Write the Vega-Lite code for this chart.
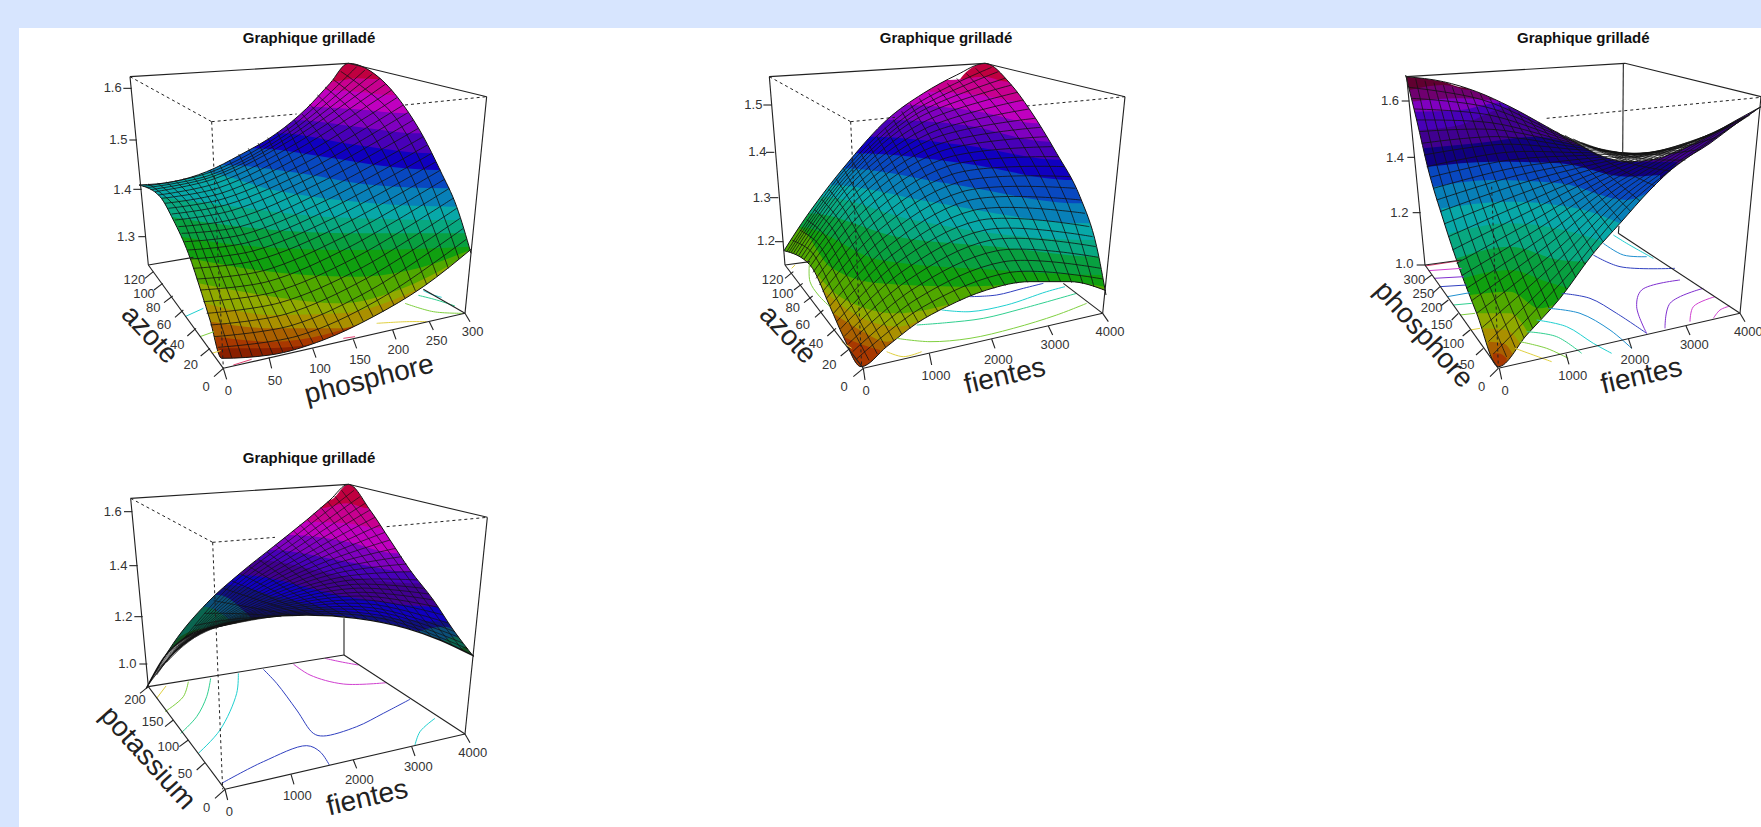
{"$schema":"https://vega.github.io/schema/vega-lite/v6.json","padding":0,"background":"#ffffff","config":{"view":{"stroke":null},"text":{"font":"Liberation Sans"}},
"datasets":{
"a1":[{"b":17,"x":150,"y":220},{"b":17,"x":690,"y":220},{"b":17,"x":775,"y":130},{"b":17,"x":1140,"y":130},
{"b":16,"x":150,"y":185},{"b":16,"x":725,"y":185},{"b":16,"x":800,"y":175},{"b":16,"x":870,"y":178},{"b":16,"x":1140,"y":178},
{"b":15,"x":150,"y":210},{"b":15,"x":700,"y":210},{"b":15,"x":800,"y":215},{"b":15,"x":900,"y":225},{"b":15,"x":1140,"y":225},
{"b":14,"x":150,"y":260},{"b":14,"x":655,"y":260},{"b":14,"x":800,"y":268},{"b":14,"x":950,"y":280},{"b":14,"x":1140,"y":280},
{"b":13,"x":150,"y":300},{"b":13,"x":610,"y":300},{"b":13,"x":800,"y":320},{"b":13,"x":990,"y":340},{"b":13,"x":1140,"y":340},
{"b":12,"x":150,"y":340},{"b":12,"x":560,"y":340},{"b":12,"x":800,"y":375},{"b":12,"x":1025,"y":400},{"b":12,"x":1140,"y":400},
{"b":11,"x":150,"y":385},{"b":11,"x":490,"y":385},{"b":11,"x":700,"y":410},{"b":11,"x":900,"y":440},{"b":11,"x":1050,"y":450},{"b":11,"x":1140,"y":450},
{"b":10,"x":150,"y":435},{"b":10,"x":400,"y":435},{"b":10,"x":600,"y":455},{"b":10,"x":850,"y":495},{"b":10,"x":1075,"y":505},{"b":10,"x":1140,"y":505},
{"b":9,"x":150,"y":495},{"b":9,"x":250,"y":485},{"b":9,"x":340,"y":458},{"b":9,"x":550,"y":510},{"b":9,"x":850,"y":550},{"b":9,"x":1095,"y":560},{"b":9,"x":1140,"y":560},
{"b":8,"x":205,"y":530},{"b":8,"x":400,"y":555},{"b":8,"x":700,"y":590},{"b":8,"x":1110,"y":600},{"b":8,"x":1140,"y":600},
{"b":7,"x":240,"y":590},{"b":7,"x":450,"y":620},{"b":7,"x":800,"y":640},{"b":7,"x":1125,"y":640},{"b":7,"x":1140,"y":640},
{"b":6,"x":272,"y":650},{"b":6,"x":500,"y":680},{"b":6,"x":800,"y":690},{"b":6,"x":1140,"y":680},
{"b":5,"x":300,"y":715},{"b":5,"x":500,"y":750},{"b":5,"x":800,"y":770},{"b":5,"x":1000,"y":740},{"b":5,"x":1140,"y":690},
{"b":4,"x":325,"y":790},{"b":4,"x":550,"y":830},{"b":4,"x":750,"y":850},{"b":4,"x":950,"y":800},{"b":4,"x":1140,"y":700},
{"b":3,"x":345,"y":850},{"b":3,"x":550,"y":885},{"b":3,"x":750,"y":880},{"b":3,"x":1000,"y":800},
{"b":2,"x":362,"y":905},{"b":2,"x":550,"y":925},{"b":2,"x":750,"y":925},{"b":2,"x":900,"y":865},
{"b":1,"x":378,"y":950},{"b":1,"x":550,"y":965},{"b":1,"x":700,"y":945},{"b":1,"x":800,"y":915},
{"b":0,"x":388,"y":985},{"b":0,"x":520,"y":985},{"b":0,"x":650,"y":975},{"b":0,"x":720,"y":950}],
"k1":[{"x":147,"y":495},{"x":210,"y":530},{"x":250,"y":600},{"x":295,"y":700},{"x":335,"y":820},{"x":360,"y":900},{"x":395,"y":1015},{"x":540,"y":1005},{"x":700,"y":960},{"x":850,"y":890},{"x":1000,"y":800},{"x":1143,"y":688}],
"r1":[{"x":147,"y":495},{"x":250,"y":485},{"x":350,"y":455},{"x":450,"y":405},{"x":560,"y":340},{"x":650,"y":265},{"x":720,"y":190},{"x":775,"y":130},{"x":870,"y":175},{"x":940,"y":255},{"x":1000,"y":350},{"x":1050,"y":450},{"x":1100,"y":560},{"x":1143,"y":700}],
"m1":[{"m":1,"x":384,"y":982},{"m":1,"x":623,"y":948},{"m":1,"x":862,"y":841},{"m":1,"x":1130,"y":657},
{"m":2,"x":372,"y":950},{"m":2,"x":606,"y":916},{"m":2,"x":845,"y":808},{"m":2,"x":1120,"y":625},
{"m":3,"x":361,"y":915},{"m":3,"x":588,"y":882},{"m":3,"x":828,"y":776},{"m":3,"x":1110,"y":595},
{"m":4,"x":350,"y":880},{"m":4,"x":570,"y":848},{"m":4,"x":812,"y":745},{"m":4,"x":1100,"y":565},
{"m":5,"x":340,"y":845},{"m":5,"x":553,"y":816},{"m":5,"x":795,"y":713},{"m":5,"x":1089,"y":535},
{"m":6,"x":330,"y":810},{"m":6,"x":536,"y":784},{"m":6,"x":778,"y":681},{"m":6,"x":1078,"y":505},
{"m":7,"x":320,"y":777},{"m":7,"x":520,"y":752},{"m":7,"x":762,"y":650},{"m":7,"x":1065,"y":477},
{"m":8,"x":310,"y":745},{"m":8,"x":503,"y":720},{"m":8,"x":747,"y":620},{"m":8,"x":1052,"y":450},
{"m":9,"x":301,"y":717},{"m":9,"x":489,"y":693},{"m":9,"x":733,"y":593},{"m":9,"x":1038,"y":425},
{"m":10,"x":293,"y":690},{"m":10,"x":475,"y":667},{"m":10,"x":719,"y":567},{"m":10,"x":1025,"y":400},
{"m":11,"x":284,"y":665},{"m":11,"x":462,"y":643},{"m":11,"x":706,"y":542},{"m":11,"x":1012,"y":375},
{"m":12,"x":275,"y":640},{"m":12,"x":450,"y":620},{"m":12,"x":693,"y":517},{"m":12,"x":1000,"y":350},
{"m":13,"x":265,"y":620},{"m":13,"x":437,"y":596},{"m":13,"x":680,"y":493},{"m":13,"x":985,"y":325},
{"m":14,"x":255,"y":600},{"m":14,"x":424,"y":572},{"m":14,"x":668,"y":470},{"m":14,"x":970,"y":300},
{"m":15,"x":245,"y":582},{"m":15,"x":414,"y":553},{"m":15,"x":657,"y":449},{"m":15,"x":955,"y":277},
{"m":16,"x":235,"y":565},{"m":16,"x":405,"y":535},{"m":16,"x":647,"y":428},{"m":16,"x":940,"y":255},
{"m":17,"x":225,"y":550},{"m":17,"x":396,"y":519},{"m":17,"x":636,"y":407},{"m":17,"x":922,"y":232},
{"m":18,"x":215,"y":535},{"m":18,"x":388,"y":503},{"m":18,"x":625,"y":387},{"m":18,"x":905,"y":210},
{"m":19,"x":205,"y":525},{"m":19,"x":381,"y":489},{"m":19,"x":617,"y":371},{"m":19,"x":887,"y":192},
{"m":20,"x":195,"y":515},{"m":20,"x":374,"y":476},{"m":20,"x":609,"y":356},{"m":20,"x":870,"y":175},
{"m":21,"x":182,"y":509},{"m":21,"x":370,"y":469},{"m":21,"x":604,"y":346},{"m":21,"x":847,"y":162},
{"m":22,"x":170,"y":503},{"m":22,"x":367,"y":463},{"m":22,"x":599,"y":337},{"m":22,"x":825,"y":150},
{"m":23,"x":160,"y":499},{"m":23,"x":363,"y":456},{"m":23,"x":594,"y":328},{"m":23,"x":800,"y":140},
{"m":101,"x":425,"y":1013},{"m":101,"x":334,"y":742},{"m":101,"x":256,"y":561},{"m":101,"x":176,"y":492},
{"m":102,"x":456,"y":1012},{"m":102,"x":358,"y":739},{"m":102,"x":277,"y":558},{"m":102,"x":203,"y":490},
{"m":103,"x":487,"y":1009},{"m":103,"x":382,"y":736},{"m":103,"x":298,"y":554},{"m":103,"x":229,"y":486},
{"m":104,"x":518,"y":1007},{"m":104,"x":406,"y":733},{"m":104,"x":320,"y":550},{"m":104,"x":255,"y":482},
{"m":105,"x":548,"y":1002},{"m":105,"x":430,"y":729},{"m":105,"x":341,"y":546},{"m":105,"x":281,"y":475},
{"m":106,"x":579,"y":997},{"m":106,"x":455,"y":726},{"m":106,"x":362,"y":543},{"m":106,"x":308,"y":468},
{"m":107,"x":610,"y":988},{"m":107,"x":479,"y":723},{"m":107,"x":383,"y":539},{"m":107,"x":334,"y":459},
{"m":108,"x":640,"y":980},{"m":108,"x":503,"y":720},{"m":108,"x":405,"y":535},{"m":108,"x":360,"y":450},
{"m":109,"x":670,"y":970},{"m":109,"x":533,"y":707},{"m":109,"x":435,"y":521},{"m":109,"x":389,"y":435},
{"m":110,"x":700,"y":960},{"m":110,"x":564,"y":695},{"m":110,"x":465,"y":508},{"m":110,"x":418,"y":420},
{"m":111,"x":730,"y":946},{"m":111,"x":594,"y":682},{"m":111,"x":495,"y":494},{"m":111,"x":446,"y":402},
{"m":112,"x":760,"y":932},{"m":112,"x":625,"y":670},{"m":112,"x":526,"y":481},{"m":112,"x":475,"y":385},
{"m":113,"x":790,"y":918},{"m":113,"x":655,"y":657},{"m":113,"x":556,"y":468},{"m":113,"x":504,"y":369},
{"m":114,"x":820,"y":904},{"m":114,"x":686,"y":645},{"m":114,"x":586,"y":455},{"m":114,"x":533,"y":353},
{"m":115,"x":850,"y":890},{"m":115,"x":716,"y":632},{"m":115,"x":616,"y":441},{"m":115,"x":561,"y":336},
{"m":116,"x":880,"y":875},{"m":116,"x":747,"y":620},{"m":116,"x":647,"y":428},{"m":116,"x":590,"y":320},
{"m":117,"x":912,"y":855},{"m":117,"x":785,"y":599},{"m":117,"x":683,"y":406},{"m":117,"x":613,"y":301},
{"m":118,"x":945,"y":835},{"m":118,"x":823,"y":578},{"m":118,"x":720,"y":385},{"m":118,"x":636,"y":282},
{"m":119,"x":977,"y":814},{"m":119,"x":861,"y":556},{"m":119,"x":756,"y":363},{"m":119,"x":659,"y":253},
{"m":120,"x":1010,"y":793},{"m":120,"x":900,"y":535},{"m":120,"x":793,"y":341},{"m":120,"x":682,"y":225},
{"m":121,"x":1042,"y":769},{"m":121,"x":938,"y":514},{"m":121,"x":830,"y":319},{"m":121,"x":705,"y":201},
{"m":122,"x":1075,"y":745},{"m":122,"x":976,"y":493},{"m":122,"x":867,"y":298},{"m":122,"x":729,"y":178},
{"m":123,"x":1107,"y":717},{"m":123,"x":1014,"y":471},{"m":123,"x":903,"y":276},{"m":123,"x":752,"y":154}],
"c1":[{"l":1,"c":6,"x":285,"y":890},{"l":1,"c":6,"x":340,"y":865},{"l":2,"c":8,"x":330,"y":950},{"l":2,"c":8,"x":372,"y":935},{"l":3,"c":9,"x":365,"y":1000},{"l":3,"c":9,"x":392,"y":992},{"l":4,"c":1,"x":430,"y":1035},{"l":4,"c":1,"x":485,"y":1018},{"l":5,"c":1,"x":760,"y":955},{"l":5,"c":1,"x":795,"y":950},{"l":6,"c":6,"x":1000,"y":812},{"l":6,"c":6,"x":1030,"y":825},{"l":6,"c":6,"x":1055,"y":832},{"l":7,"c":7,"x":985,"y":826},{"l":7,"c":7,"x":1040,"y":840},{"l":7,"c":7,"x":1095,"y":858},{"l":8,"c":8,"x":945,"y":850},{"l":8,"c":8,"x":1030,"y":875},{"l":8,"c":8,"x":1120,"y":880},{"l":9,"c":9,"x":860,"y":910},{"l":9,"c":9,"x":950,"y":905},{"l":9,"c":9,"x":1010,"y":905}],
"s1":[{"x":120,"y":170,"x2":775,"y2":130},{"x":775,"y":130,"x2":1190,"y2":230},{"x":120,"y":170,"x2":175,"y2":735},{"x":1190,"y":230,"x2":1125,"y2":880},{"x":175,"y":735,"x2":400,"y2":1045},{"x":400,"y":1045,"x2":1125,"y2":880},{"x":175,"y":735,"x2":310,"y2":712},{"x":1125,"y":880,"x2":1000,"y2":808},
{"x":125,"y":205,"x2":100,"y2":205},{"x":140,"y":360,"x2":118,"y2":360},{"x":155,"y":508,"x2":130,"y2":508},{"x":165,"y":650,"x2":145,"y2":650},
{"x":400,"y":1045,"x2":372,"y2":1070},{"x":360,"y":985,"x2":332,"y2":1008},{"x":318,"y":925,"x2":292,"y2":948},{"x":280,"y":870,"x2":255,"y2":892},{"x":248,"y":828,"x2":222,"y2":848},{"x":218,"y":790,"x2":192,"y2":810},{"x":190,"y":755,"x2":165,"y2":775},
{"x":400,"y":1045,"x2":410,"y2":1078},{"x":537,"y":1012,"x2":545,"y2":1045},{"x":668,"y":985,"x2":678,"y2":1013},{"x":790,"y":958,"x2":800,"y2":985},{"x":908,"y":930,"x2":918,"y2":958},{"x":1018,"y":905,"x2":1030,"y2":930},{"x":1125,"y":880,"x2":1140,"y2":905}],
"d1":[{"x":120,"y":170,"x2":365,"y2":305},{"x":365,"y":305,"x2":620,"y2":282},{"x":945,"y":255,"x2":1190,"y2":230},{"x":365,"y":305,"x2":400,"y2":1045}],
"t1":[{"x":68,"y":205,"t":"1.6"},{"x":85,"y":360,"t":"1.5"},{"x":97,"y":510,"t":"1.4"},{"x":108,"y":650,"t":"1.3"},{"x":348,"y":1102,"t":"0"},{"x":302,"y":1035,"t":"20"},{"x":262,"y":975,"t":"40"},{"x":222,"y":915,"t":"60"},{"x":190,"y":865,"t":"80"},{"x":162,"y":822,"t":"100"},{"x":133,"y":780,"t":"120"},{"x":415,"y":1112,"t":"0"},{"x":555,"y":1082,"t":"50"},{"x":690,"y":1047,"t":"100"},{"x":810,"y":1020,"t":"150"},{"x":925,"y":990,"t":"200"},{"x":1040,"y":962,"t":"250"},{"x":1148,"y":937,"t":"300"}],
"a2":[{"b":17,"x":165,"y":165},{"b":17,"x":700,"y":165},{"b":17,"x":765,"y":130},{"b":17,"x":1125,"y":130},
{"b":16,"x":165,"y":180},{"b":16,"x":660,"y":180},{"b":16,"x":760,"y":170},{"b":16,"x":835,"y":185},{"b":16,"x":1125,"y":185},
{"b":15,"x":165,"y":215},{"b":15,"x":590,"y":215},{"b":15,"x":750,"y":225},{"b":15,"x":880,"y":245},{"b":15,"x":1125,"y":245},
{"b":14,"x":165,"y":255},{"b":14,"x":530,"y":255},{"b":14,"x":750,"y":275},{"b":14,"x":920,"y":310},{"b":14,"x":1125,"y":310},
{"b":13,"x":165,"y":300},{"b":13,"x":470,"y":300},{"b":13,"x":700,"y":315},{"b":13,"x":960,"y":365},{"b":13,"x":1125,"y":365},
{"b":12,"x":165,"y":350},{"b":12,"x":420,"y":350},{"b":12,"x":700,"y":375},{"b":12,"x":1000,"y":420},{"b":12,"x":1125,"y":420},
{"b":11,"x":165,"y":400},{"b":11,"x":380,"y":400},{"b":11,"x":700,"y":430},{"b":11,"x":1030,"y":480},{"b":11,"x":1125,"y":480},
{"b":10,"x":165,"y":445},{"b":10,"x":340,"y":445},{"b":10,"x":650,"y":490},{"b":10,"x":1055,"y":550},{"b":10,"x":1125,"y":550},
{"b":9,"x":165,"y":495},{"b":9,"x":300,"y":495},{"b":9,"x":600,"y":545},{"b":9,"x":1075,"y":610},{"b":9,"x":1125,"y":610},
{"b":8,"x":165,"y":530},{"b":8,"x":270,"y":530},{"b":8,"x":550,"y":600},{"b":8,"x":1090,"y":660},{"b":8,"x":1125,"y":660},
{"b":7,"x":165,"y":580},{"b":7,"x":235,"y":580},{"b":7,"x":500,"y":650},{"b":7,"x":800,"y":680},{"b":7,"x":1105,"y":710},{"b":7,"x":1125,"y":710},
{"b":6,"x":165,"y":620},{"b":6,"x":205,"y":620},{"b":6,"x":450,"y":720},{"b":6,"x":800,"y":750},{"b":6,"x":1115,"y":765},{"b":6,"x":1125,"y":765},
{"b":5,"x":165,"y":692},{"b":5,"x":205,"y":625},{"b":5,"x":300,"y":740},{"b":5,"x":450,"y":790},{"b":5,"x":700,"y":800},{"b":5,"x":1000,"y":785},{"b":5,"x":1125,"y":800},
{"b":4,"x":225,"y":715},{"b":4,"x":330,"y":830},{"b":4,"x":500,"y":880},{"b":4,"x":650,"y":855},{"b":4,"x":800,"y":805},
{"b":3,"x":280,"y":810},{"b":3,"x":370,"y":880},{"b":3,"x":500,"y":920},{"b":3,"x":600,"y":885},
{"b":2,"x":310,"y":880},{"b":2,"x":390,"y":930},{"b":2,"x":470,"y":965},{"b":2,"x":520,"y":945},
{"b":1,"x":340,"y":950},{"b":1,"x":400,"y":975},{"b":1,"x":450,"y":990},
{"b":17,"x":370,"y":1000},{"b":17,"x":393,"y":1005},{"b":17,"x":420,"y":1020}],
"k2":[{"x":162,"y":692},{"x":240,"y":735},{"x":300,"y":860},{"x":340,"y":950},{"x":393,"y":1040},{"x":470,"y":980},{"x":560,"y":910},{"x":650,"y":860},{"x":770,"y":810},{"x":900,"y":785},{"x":1020,"y":785},{"x":1128,"y":812}],
"r2":[{"x":162,"y":692},{"x":215,"y":610},{"x":280,"y":520},{"x":360,"y":420},{"x":470,"y":300},{"x":580,"y":220},{"x":680,"y":165},{"x":765,"y":130},{"x":840,"y":190},{"x":900,"y":270},{"x":980,"y":400},{"x":1050,"y":530},{"x":1100,"y":680},{"x":1128,"y":825}],
"m2":[{"m":1,"x":380,"y":1017},{"m":1,"x":575,"y":863},{"m":1,"x":841,"y":757},{"m":1,"x":1118,"y":777},
{"m":2,"x":368,"y":995},{"m":2,"x":560,"y":837},{"m":2,"x":822,"y":725},{"m":2,"x":1112,"y":745},
{"m":3,"x":355,"y":972},{"m":3,"x":545,"y":810},{"m":3,"x":802,"y":692},{"m":3,"x":1105,"y":712},
{"m":4,"x":342,"y":950},{"m":4,"x":530,"y":783},{"m":4,"x":783,"y":660},{"m":4,"x":1098,"y":680},
{"m":5,"x":331,"y":927},{"m":5,"x":515,"y":756},{"m":5,"x":765,"y":630},{"m":5,"x":1088,"y":650},
{"m":6,"x":320,"y":905},{"m":6,"x":500,"y":730},{"m":6,"x":748,"y":601},{"m":6,"x":1078,"y":620},
{"m":7,"x":309,"y":882},{"m":7,"x":486,"y":705},{"m":7,"x":730,"y":571},{"m":7,"x":1065,"y":580},
{"m":8,"x":298,"y":860},{"m":8,"x":472,"y":681},{"m":8,"x":713,"y":542},{"m":8,"x":1052,"y":540},
{"m":9,"x":288,"y":837},{"m":9,"x":458,"y":656},{"m":9,"x":697,"y":515},{"m":9,"x":1036,"y":505},
{"m":10,"x":278,"y":815},{"m":10,"x":445,"y":632},{"m":10,"x":681,"y":488},{"m":10,"x":1020,"y":470},
{"m":11,"x":268,"y":795},{"m":11,"x":432,"y":609},{"m":11,"x":666,"y":463},{"m":11,"x":1002,"y":440},
{"m":12,"x":258,"y":775},{"m":12,"x":420,"y":587},{"m":12,"x":652,"y":439},{"m":12,"x":985,"y":410},
{"m":13,"x":249,"y":757},{"m":13,"x":408,"y":567},{"m":13,"x":639,"y":417},{"m":13,"x":967,"y":380},
{"m":14,"x":240,"y":740},{"m":14,"x":397,"y":547},{"m":14,"x":626,"y":396},{"m":14,"x":950,"y":350},
{"m":15,"x":231,"y":729},{"m":15,"x":388,"y":531},{"m":15,"x":615,"y":377},{"m":15,"x":932,"y":322},
{"m":16,"x":222,"y":718},{"m":16,"x":380,"y":516},{"m":16,"x":604,"y":358},{"m":16,"x":915,"y":295},
{"m":17,"x":213,"y":713},{"m":17,"x":372,"y":503},{"m":17,"x":594,"y":342},{"m":17,"x":897,"y":267},
{"m":18,"x":205,"y":708},{"m":18,"x":365,"y":490},{"m":18,"x":585,"y":326},{"m":18,"x":880,"y":240},
{"m":19,"x":197,"y":704},{"m":19,"x":360,"y":481},{"m":19,"x":575,"y":309},{"m":19,"x":862,"y":217},
{"m":20,"x":190,"y":700},{"m":20,"x":355,"y":472},{"m":20,"x":566,"y":293},{"m":20,"x":845,"y":195},
{"m":21,"x":183,"y":698},{"m":21,"x":351,"y":465},{"m":21,"x":559,"y":282},{"m":21,"x":825,"y":175},
{"m":22,"x":177,"y":696},{"m":22,"x":347,"y":458},{"m":22,"x":553,"y":272},{"m":22,"x":805,"y":155},
{"m":23,"x":171,"y":694},{"m":23,"x":343,"y":451},{"m":23,"x":546,"y":261},{"m":23,"x":785,"y":142},
{"m":101,"x":417,"y":1021},{"m":101,"x":320,"y":837},{"m":101,"x":242,"y":693},{"m":101,"x":187,"y":661},
{"m":102,"x":442,"y":1002},{"m":102,"x":342,"y":815},{"m":102,"x":262,"y":668},{"m":102,"x":209,"y":630},
{"m":103,"x":467,"y":982},{"m":103,"x":363,"y":792},{"m":103,"x":281,"y":642},{"m":103,"x":230,"y":599},
{"m":104,"x":492,"y":963},{"m":104,"x":385,"y":770},{"m":104,"x":301,"y":617},{"m":104,"x":252,"y":568},
{"m":105,"x":516,"y":944},{"m":105,"x":407,"y":748},{"m":105,"x":321,"y":592},{"m":105,"x":274,"y":537},
{"m":106,"x":541,"y":925},{"m":106,"x":429,"y":726},{"m":106,"x":341,"y":567},{"m":106,"x":296,"y":507},
{"m":107,"x":565,"y":907},{"m":107,"x":450,"y":703},{"m":107,"x":360,"y":541},{"m":107,"x":318,"y":476},
{"m":108,"x":590,"y":890},{"m":108,"x":472,"y":681},{"m":108,"x":380,"y":516},{"m":108,"x":340,"y":445},
{"m":109,"x":623,"y":873},{"m":109,"x":502,"y":663},{"m":109,"x":408,"y":496},{"m":109,"x":365,"y":420},
{"m":110,"x":657,"y":857},{"m":110,"x":532,"y":646},{"m":110,"x":436,"y":477},{"m":110,"x":390,"y":396},
{"m":111,"x":691,"y":842},{"m":111,"x":562,"y":629},{"m":111,"x":464,"y":457},{"m":111,"x":415,"y":372},
{"m":112,"x":725,"y":828},{"m":112,"x":592,"y":612},{"m":112,"x":492,"y":437},{"m":112,"x":440,"y":348},
{"m":113,"x":758,"y":816},{"m":113,"x":622,"y":594},{"m":113,"x":520,"y":417},{"m":113,"x":465,"y":323},
{"m":114,"x":792,"y":805},{"m":114,"x":653,"y":577},{"m":114,"x":548,"y":398},{"m":114,"x":490,"y":299},
{"m":115,"x":826,"y":797},{"m":115,"x":683,"y":559},{"m":115,"x":576,"y":378},{"m":115,"x":515,"y":274},
{"m":116,"x":860,"y":790},{"m":116,"x":713,"y":542},{"m":116,"x":604,"y":358},{"m":116,"x":540,"y":250},
{"m":117,"x":893,"y":787},{"m":117,"x":755,"y":542},{"m":117,"x":643,"y":350},{"m":117,"x":568,"y":235},
{"m":118,"x":926,"y":785},{"m":118,"x":798,"y":542},{"m":118,"x":682,"y":342},{"m":118,"x":596,"y":220},
{"m":119,"x":959,"y":785},{"m":119,"x":840,"y":541},{"m":119,"x":721,"y":334},{"m":119,"x":624,"y":205},
{"m":120,"x":992,"y":785},{"m":120,"x":882,"y":541},{"m":120,"x":760,"y":327},{"m":120,"x":652,"y":190},
{"m":121,"x":1025,"y":788},{"m":121,"x":924,"y":541},{"m":121,"x":798,"y":319},{"m":121,"x":680,"y":175},
{"m":122,"x":1059,"y":792},{"m":122,"x":967,"y":541},{"m":122,"x":837,"y":311},{"m":122,"x":709,"y":160},
{"m":123,"x":1092,"y":801},{"m":123,"x":1009,"y":540},{"m":123,"x":876,"y":303},{"m":123,"x":737,"y":145}],
"c2":[{"l":1,"c":4,"x":720,"y":830},{"l":1,"c":4,"x":800,"y":825},{"l":1,"c":4,"x":880,"y":805},{"l":1,"c":4,"x":940,"y":790},{"l":2,"c":6,"x":635,"y":870},{"l":2,"c":6,"x":720,"y":875},{"l":2,"c":6,"x":830,"y":855},{"l":2,"c":6,"x":950,"y":815},{"l":2,"c":6,"x":1005,"y":800},{"l":3,"c":7,"x":560,"y":915},{"l":3,"c":7,"x":650,"y":908},{"l":3,"c":7,"x":760,"y":895},{"l":3,"c":7,"x":880,"y":865},{"l":3,"c":7,"x":1040,"y":820},{"l":4,"c":8,"x":500,"y":955},{"l":4,"c":8,"x":600,"y":965},{"l":4,"c":8,"x":720,"y":955},{"l":4,"c":8,"x":850,"y":925},{"l":4,"c":8,"x":980,"y":885},{"l":4,"c":8,"x":1070,"y":850},{"l":5,"c":9,"x":470,"y":995},{"l":5,"c":9,"x":520,"y":1010},{"l":5,"c":9,"x":575,"y":995},{"l":6,"c":8,"x":238,"y":733},{"l":6,"c":8,"x":240,"y":785},{"l":6,"c":8,"x":265,"y":825},{"l":6,"c":8,"x":300,"y":860},{"l":7,"c":9,"x":195,"y":735},{"l":7,"c":9,"x":185,"y":745},{"l":8,"c":9,"x":335,"y":965},{"l":8,"c":9,"x":365,"y":985}],
"s2":[{"x":118,"y":170,"x2":765,"y2":130},{"x":765,"y":130,"x2":1185,"y2":230},{"x":118,"y":170,"x2":165,"y2":735},{"x":1185,"y":230,"x2":1118,"y2":880},{"x":165,"y":735,"x2":400,"y2":1045},{"x":400,"y":1045,"x2":1118,"y2":880},{"x":165,"y":735,"x2":240,"y2":725},{"x":1118,"y":880,"x2":1000,"y2":790},
{"x":125,"y":255,"x2":100,"y2":255},{"x":133,"y":397,"x2":108,"y2":397},{"x":145,"y":533,"x2":120,"y2":533},{"x":160,"y":665,"x2":135,"y2":665},
{"x":400,"y":1045,"x2":370,"y2":1070},{"x":360,"y":985,"x2":332,"y2":1008},{"x":318,"y":925,"x2":292,"y2":948},{"x":280,"y":870,"x2":255,"y2":892},{"x":248,"y":828,"x2":222,"y2":848},{"x":218,"y":790,"x2":192,"y2":810},{"x":190,"y":755,"x2":165,"y2":775},
{"x":400,"y":1045,"x2":405,"y2":1080},{"x":598,"y":1000,"x2":605,"y2":1035},{"x":785,"y":957,"x2":795,"y2":985},{"x":955,"y":918,"x2":968,"y2":945},{"x":1118,"y":880,"x2":1135,"y2":905}],
"d2":[{"x":118,"y":170,"x2":362,"y2":305},{"x":362,"y":305,"x2":495,"y2":292},{"x":890,"y":258,"x2":1185,"y2":230},{"x":362,"y":305,"x2":395,"y2":1040}],
"t2":[{"x":70,"y":255,"t":"1.5"},{"x":82,"y":397,"t":"1.4"},{"x":95,"y":533,"t":"1.3"},{"x":108,"y":662,"t":"1.2"},{"x":342,"y":1102,"t":"0"},{"x":298,"y":1035,"t":"20"},{"x":258,"y":972,"t":"40"},{"x":218,"y":915,"t":"60"},{"x":188,"y":865,"t":"80"},{"x":158,"y":822,"t":"100"},{"x":128,"y":780,"t":"120"},{"x":408,"y":1112,"t":"0"},{"x":618,"y":1067,"t":"1000"},{"x":805,"y":1020,"t":"2000"},{"x":975,"y":975,"t":"3000"},{"x":1140,"y":937,"t":"4000"}],
"a3":[{"b":22,"x":140,"y":170},{"b":22,"x":250,"y":185},{"b":22,"x":310,"y":202},{"b":22,"x":560,"y":202},
{"b":23,"x":148,"y":210},{"b":23,"x":250,"y":195},{"b":23,"x":330,"y":210},{"b":23,"x":560,"y":210},
{"b":14,"x":155,"y":245},{"b":14,"x":300,"y":235},{"b":14,"x":400,"y":240},{"b":14,"x":560,"y":240},
{"b":13,"x":165,"y":275},{"b":13,"x":300,"y":270},{"b":13,"x":420,"y":248},{"b":13,"x":560,"y":248},
{"b":24,"x":178,"y":330},{"b":24,"x":300,"y":315},{"b":24,"x":450,"y":262},{"b":24,"x":560,"y":320},{"b":24,"x":650,"y":370},{"b":24,"x":730,"y":410},{"b":24,"x":800,"y":425},{"b":24,"x":870,"y":420},{"b":24,"x":950,"y":395},{"b":24,"x":1050,"y":345},{"b":24,"x":1130,"y":300},{"b":24,"x":1203,"y":260},
{"b":25,"x":190,"y":385},{"b":25,"x":350,"y":370},{"b":25,"x":530,"y":350},{"b":25,"x":650,"y":375},{"b":25,"x":800,"y":425},{"b":25,"x":870,"y":425},{"b":25,"x":950,"y":425},
{"b":11,"x":205,"y":440},{"b":11,"x":400,"y":425},{"b":11,"x":600,"y":430},{"b":11,"x":800,"y":470},{"b":11,"x":900,"y":465},
{"b":10,"x":222,"y":500},{"b":10,"x":400,"y":480},{"b":10,"x":600,"y":490},{"b":10,"x":800,"y":540},{"b":10,"x":860,"y":520},
{"b":9,"x":245,"y":565},{"b":9,"x":450,"y":545},{"b":9,"x":650,"y":565},{"b":9,"x":780,"y":610},
{"b":8,"x":270,"y":640},{"b":8,"x":450,"y":610},{"b":8,"x":650,"y":640},{"b":8,"x":730,"y":665},
{"b":7,"x":290,"y":715},{"b":7,"x":450,"y":680},{"b":7,"x":600,"y":720},{"b":7,"x":680,"y":725},
{"b":6,"x":310,"y":775},{"b":6,"x":450,"y":750},{"b":6,"x":560,"y":785},{"b":6,"x":625,"y":805},
{"b":5,"x":330,"y":825},{"b":5,"x":450,"y":815},{"b":5,"x":540,"y":865},{"b":5,"x":580,"y":855},
{"b":4,"x":350,"y":880},{"b":4,"x":450,"y":880},{"b":4,"x":505,"y":940},
{"b":3,"x":370,"y":925},{"b":3,"x":440,"y":930},{"b":3,"x":480,"y":970},
{"b":2,"x":385,"y":965},{"b":2,"x":430,"y":970},{"b":2,"x":460,"y":1005},
{"b":1,"x":398,"y":1000},{"b":1,"x":415,"y":1000},{"b":1,"x":440,"y":1015}],
"k3":[{"x":137,"y":165},{"x":170,"y":300},{"x":205,"y":450},{"x":250,"y":600},{"x":300,"y":750},{"x":350,"y":880},{"x":415,"y":1040},{"x":500,"y":945},{"x":600,"y":835},{"x":700,"y":700},{"x":780,"y":610},{"x":870,"y":510},{"x":950,"y":435},{"x":1050,"y":370},{"x":1130,"y":310},{"x":1203,"y":260}],
"r3":[{"x":137,"y":170},{"x":250,"y":185},{"x":350,"y":215},{"x":450,"y":260},{"x":560,"y":320},{"x":650,"y":370},{"x":730,"y":410},{"x":800,"y":425},{"x":870,"y":420},{"x":950,"y":395},{"x":1050,"y":345},{"x":1130,"y":300},{"x":1203,"y":260}],
"m3":[{"m":1,"x":400,"y":1002},{"m":1,"x":608,"y":783},{"m":1,"x":828,"y":534},{"m":1,"x":1186,"y":272},
{"m":2,"x":385,"y":965},{"m":2,"x":597,"y":757},{"m":2,"x":817,"y":526},{"m":2,"x":1170,"y":285},
{"m":3,"x":367,"y":922},{"m":3,"x":585,"y":730},{"m":3,"x":806,"y":516},{"m":3,"x":1155,"y":291},
{"m":4,"x":350,"y":880},{"m":4,"x":573,"y":704},{"m":4,"x":795,"y":507},{"m":4,"x":1140,"y":298},
{"m":5,"x":335,"y":842},{"m":5,"x":561,"y":677},{"m":5,"x":783,"y":497},{"m":5,"x":1122,"y":308},
{"m":6,"x":320,"y":805},{"m":6,"x":550,"y":651},{"m":6,"x":772,"y":488},{"m":6,"x":1105,"y":318},
{"m":7,"x":305,"y":767},{"m":7,"x":538,"y":624},{"m":7,"x":761,"y":478},{"m":7,"x":1088,"y":326},
{"m":8,"x":290,"y":730},{"m":8,"x":526,"y":598},{"m":8,"x":750,"y":469},{"m":8,"x":1070,"y":335},
{"m":9,"x":277,"y":690},{"m":9,"x":514,"y":571},{"m":9,"x":738,"y":459},{"m":9,"x":1052,"y":343},
{"m":10,"x":265,"y":650},{"m":10,"x":503,"y":545},{"m":10,"x":727,"y":450},{"m":10,"x":1035,"y":352},
{"m":11,"x":252,"y":612},{"m":11,"x":491,"y":518},{"m":11,"x":716,"y":441},{"m":11,"x":1018,"y":362},
{"m":12,"x":240,"y":575},{"m":12,"x":480,"y":491},{"m":12,"x":705,"y":432},{"m":12,"x":1000,"y":372},
{"m":13,"x":230,"y":540},{"m":13,"x":469,"y":467},{"m":13,"x":695,"y":423},{"m":13,"x":982,"y":381},
{"m":14,"x":220,"y":505},{"m":14,"x":459,"y":444},{"m":14,"x":685,"y":415},{"m":14,"x":965,"y":390},
{"m":15,"x":210,"y":472},{"m":15,"x":448,"y":420},{"m":15,"x":675,"y":406},{"m":15,"x":948,"y":396},
{"m":16,"x":200,"y":440},{"m":16,"x":438,"y":397},{"m":16,"x":665,"y":398},{"m":16,"x":930,"y":402},
{"m":17,"x":192,"y":405},{"m":17,"x":427,"y":373},{"m":17,"x":655,"y":389},{"m":17,"x":912,"y":407},
{"m":18,"x":185,"y":370},{"m":18,"x":417,"y":350},{"m":18,"x":645,"y":381},{"m":18,"x":895,"y":413},
{"m":19,"x":177,"y":335},{"m":19,"x":408,"y":329},{"m":19,"x":636,"y":373},{"m":19,"x":878,"y":416},
{"m":20,"x":170,"y":300},{"m":20,"x":399,"y":309},{"m":20,"x":627,"y":366},{"m":20,"x":860,"y":420},
{"m":21,"x":162,"y":267},{"m":21,"x":388,"y":285},{"m":21,"x":617,"y":358},{"m":21,"x":842,"y":422},
{"m":22,"x":155,"y":235},{"m":22,"x":378,"y":261},{"m":22,"x":607,"y":350},{"m":22,"x":825,"y":425},
{"m":23,"x":147,"y":202},{"m":23,"x":369,"y":240},{"m":23,"x":598,"y":342},{"m":23,"x":808,"y":425},
{"m":101,"x":440,"y":1011},{"m":101,"x":319,"y":713},{"m":101,"x":230,"y":434},{"m":101,"x":167,"y":176},
{"m":102,"x":466,"y":983},{"m":102,"x":349,"y":697},{"m":102,"x":260,"y":429},{"m":102,"x":195,"y":182},
{"m":103,"x":492,"y":954},{"m":103,"x":378,"y":680},{"m":103,"x":289,"y":424},{"m":103,"x":222,"y":188},
{"m":104,"x":518,"y":925},{"m":104,"x":408,"y":664},{"m":104,"x":319,"y":419},{"m":104,"x":250,"y":195},
{"m":105,"x":543,"y":896},{"m":105,"x":437,"y":647},{"m":105,"x":349,"y":413},{"m":105,"x":277,"y":201},
{"m":106,"x":569,"y":868},{"m":106,"x":467,"y":631},{"m":106,"x":379,"y":408},{"m":106,"x":305,"y":208},
{"m":107,"x":594,"y":839},{"m":107,"x":496,"y":614},{"m":107,"x":408,"y":402},{"m":107,"x":332,"y":214},
{"m":108,"x":620,"y":810},{"m":108,"x":526,"y":598},{"m":108,"x":438,"y":397},{"m":108,"x":360,"y":220},
{"m":109,"x":647,"y":772},{"m":109,"x":554,"y":582},{"m":109,"x":466,"y":397},{"m":109,"x":389,"y":234},
{"m":110,"x":675,"y":734},{"m":110,"x":582,"y":566},{"m":110,"x":495,"y":397},{"m":110,"x":418,"y":249},
{"m":111,"x":702,"y":700},{"m":111,"x":610,"y":550},{"m":111,"x":523,"y":397},{"m":111,"x":446,"y":263},
{"m":112,"x":730,"y":666},{"m":112,"x":638,"y":534},{"m":112,"x":552,"y":398},{"m":112,"x":475,"y":278},
{"m":113,"x":757,"y":635},{"m":113,"x":666,"y":517},{"m":113,"x":580,"y":398},{"m":113,"x":504,"y":292},
{"m":114,"x":785,"y":605},{"m":114,"x":694,"y":501},{"m":114,"x":608,"y":398},{"m":114,"x":533,"y":306},
{"m":115,"x":812,"y":574},{"m":115,"x":722,"y":485},{"m":115,"x":636,"y":398},{"m":115,"x":561,"y":320},
{"m":116,"x":840,"y":543},{"m":116,"x":750,"y":469},{"m":116,"x":665,"y":398},{"m":116,"x":590,"y":335},
{"m":117,"x":885,"y":498},{"m":117,"x":790,"y":452},{"m":117,"x":698,"y":398},{"m":117,"x":615,"y":346},
{"m":118,"x":931,"y":453},{"m":118,"x":830,"y":435},{"m":118,"x":731,"y":399},{"m":118,"x":640,"y":357},
{"m":119,"x":976,"y":420},{"m":119,"x":870,"y":418},{"m":119,"x":764,"y":400},{"m":119,"x":665,"y":368},
{"m":120,"x":1022,"y":388},{"m":120,"x":910,"y":402},{"m":120,"x":798,"y":400},{"m":120,"x":690,"y":380},
{"m":121,"x":1067,"y":353},{"m":121,"x":950,"y":385},{"m":121,"x":831,"y":400},{"m":121,"x":715,"y":391},
{"m":122,"x":1112,"y":318},{"m":122,"x":990,"y":368},{"m":122,"x":864,"y":401},{"m":122,"x":740,"y":402},
{"m":123,"x":1157,"y":289},{"m":123,"x":1030,"y":351},{"m":123,"x":897,"y":401},{"m":123,"x":765,"y":413}],
"c3":[{"l":1,"c":1,"x":195,"y":738},{"l":1,"c":1,"x":300,"y":722},{"l":2,"c":2,"x":205,"y":752},{"l":2,"c":2,"x":305,"y":745},{"l":3,"c":3,"x":222,"y":775},{"l":3,"c":3,"x":312,"y":770},{"l":4,"c":4,"x":240,"y":800},{"l":4,"c":4,"x":320,"y":795},{"l":5,"c":5,"x":262,"y":830},{"l":5,"c":5,"x":330,"y":818},{"l":6,"c":7,"x":280,"y":855},{"l":6,"c":7,"x":335,"y":850},{"l":7,"c":8,"x":300,"y":885},{"l":7,"c":8,"x":345,"y":880},{"l":8,"c":9,"x":330,"y":930},{"l":8,"c":9,"x":360,"y":925},
{"l":9,"c":4,"x":605,"y":820},{"l":9,"c":4,"x":690,"y":835},{"l":9,"c":4,"x":770,"y":880},{"l":9,"c":4,"x":860,"y":940},{"l":10,"c":5,"x":565,"y":865},{"l":10,"c":5,"x":660,"y":880},{"l":10,"c":5,"x":750,"y":930},{"l":10,"c":5,"x":815,"y":985},{"l":11,"c":6,"x":530,"y":900},{"l":11,"c":6,"x":620,"y":920},{"l":11,"c":6,"x":700,"y":970},{"l":11,"c":6,"x":755,"y":1000},{"l":12,"c":7,"x":500,"y":935},{"l":12,"c":7,"x":590,"y":950},{"l":12,"c":7,"x":665,"y":1000},{"l":13,"c":8,"x":480,"y":965},{"l":13,"c":8,"x":560,"y":985},{"l":13,"c":8,"x":625,"y":1015},{"l":14,"c":9,"x":465,"y":985},{"l":14,"c":9,"x":520,"y":1005},{"l":14,"c":9,"x":575,"y":1025},
{"l":15,"c":6,"x":760,"y":645},{"l":15,"c":6,"x":800,"y":670},{"l":15,"c":6,"x":880,"y":715},{"l":16,"c":5,"x":730,"y":670},{"l":16,"c":5,"x":790,"y":705},{"l":16,"c":5,"x":860,"y":710},{"l":17,"c":4,"x":700,"y":705},{"l":17,"c":4,"x":780,"y":740},{"l":17,"c":4,"x":945,"y":745},
{"l":18,"c":3,"x":860,"y":940},{"l":18,"c":3,"x":830,"y":860},{"l":18,"c":3,"x":845,"y":810},{"l":18,"c":3,"x":960,"y":780},{"l":19,"c":3,"x":915,"y":925},{"l":19,"c":3,"x":930,"y":850},{"l":19,"c":3,"x":1030,"y":805},{"l":20,"c":2,"x":990,"y":905},{"l":20,"c":2,"x":1000,"y":860},{"l":20,"c":2,"x":1065,"y":830},{"l":21,"c":2,"x":1060,"y":895},{"l":21,"c":2,"x":1080,"y":870},{"l":21,"c":2,"x":1110,"y":858}],
"s3":[{"x":140,"y":170,"x2":795,"y2":130},{"x":795,"y":130,"x2":1203,"y2":230},{"x":140,"y":170,"x2":195,"y2":735},{"x":1203,"y":230,"x2":1140,"y2":880},{"x":195,"y":735,"x2":415,"y2":1045},{"x":415,"y":1045,"x2":1140,"y2":880},{"x":1140,"y":880,"x2":775,"y2":640},{"x":195,"y":735,"x2":305,"y2":720},{"x":790,"y":130,"x2":788,"y2":415},{"x":777,"y":618,"x2":775,"y2":640},
{"x":148,"y":243,"x2":125,"y2":243},{"x":165,"y":412,"x2":142,"y2":412},{"x":182,"y":578,"x2":158,"y2":578},{"x":195,"y":735,"x2":170,"y2":735},
{"x":415,"y":1045,"x2":390,"y2":1070},{"x":370,"y":985,"x2":348,"y2":1005},{"x":330,"y":930,"x2":308,"y2":948},{"x":295,"y":880,"x2":275,"y2":900},{"x":265,"y":840,"x2":242,"y2":858},{"x":240,"y":800,"x2":218,"y2":820},{"x":215,"y":765,"x2":192,"y2":782},
{"x":418,"y":1045,"x2":425,"y2":1078},{"x":618,"y":1002,"x2":627,"y2":1033},{"x":805,"y":955,"x2":815,"y2":985},{"x":978,"y":918,"x2":990,"y2":945},{"x":1140,"y":880,"x2":1155,"y2":905}],
"d3":[{"x":560,"y":295,"x2":1203,"y2":232},{"x":395,"y":500,"x2":415,"y2":1040}],
"t3":[{"x":90,"y":243,"t":"1.6"},{"x":105,"y":415,"t":"1.4"},{"x":118,"y":580,"t":"1.2"},{"x":133,"y":733,"t":"1.0"},{"x":365,"y":1102,"t":"0"},{"x":322,"y":1035,"t":"50"},{"x":280,"y":972,"t":"100"},{"x":245,"y":915,"t":"150"},{"x":215,"y":865,"t":"200"},{"x":190,"y":822,"t":"250"},{"x":163,"y":780,"t":"300"},{"x":435,"y":1112,"t":"0"},{"x":638,"y":1067,"t":"1000"},{"x":825,"y":1020,"t":"2000"},{"x":1003,"y":975,"t":"3000"},{"x":1165,"y":937,"t":"4000"}],
"a4":[{"b":17,"x":172,"y":180},{"b":17,"x":720,"y":180},{"b":17,"x":775,"y":133},{"b":17,"x":1148,"y":133},
{"b":16,"x":172,"y":205},{"b":16,"x":690,"y":205},{"b":16,"x":770,"y":190},{"b":16,"x":835,"y":205},{"b":16,"x":1148,"y":205},
{"b":15,"x":172,"y":245},{"b":15,"x":645,"y":245},{"b":15,"x":770,"y":250},{"b":15,"x":875,"y":265},{"b":15,"x":1148,"y":265},
{"b":14,"x":172,"y":285},{"b":14,"x":600,"y":285},{"b":14,"x":770,"y":305},{"b":14,"x":920,"y":340},{"b":14,"x":1148,"y":340},
{"b":13,"x":172,"y":330},{"b":13,"x":540,"y":330},{"b":13,"x":770,"y":365},{"b":13,"x":960,"y":395},{"b":13,"x":1148,"y":395},
{"b":24,"x":172,"y":360},{"b":24,"x":500,"y":360},{"b":24,"x":770,"y":410},{"b":24,"x":990,"y":430},{"b":24,"x":1148,"y":430},
{"b":12,"x":172,"y":405},{"b":12,"x":450,"y":405},{"b":12,"x":770,"y":470},{"b":12,"x":1040,"y":500},{"b":12,"x":1148,"y":500},
{"b":18,"x":172,"y":435},{"b":18,"x":415,"y":435},{"b":18,"x":560,"y":470},{"b":18,"x":800,"y":520},{"b":18,"x":1070,"y":545},{"b":18,"x":1148,"y":545},
{"b":19,"x":172,"y":465},{"b":19,"x":385,"y":465},{"b":19,"x":480,"y":530},{"b":19,"x":520,"y":570},{"b":19,"x":900,"y":590},{"b":19,"x":1060,"y":560},{"b":19,"x":1148,"y":600},
{"b":20,"x":172,"y":500},{"b":20,"x":340,"y":500},{"b":20,"x":420,"y":540},{"b":20,"x":470,"y":590},{"b":20,"x":1000,"y":630},{"b":20,"x":1095,"y":590},{"b":20,"x":1148,"y":620},
{"b":21,"x":172,"y":742},{"b":21,"x":225,"y":650},{"b":21,"x":270,"y":590},{"b":21,"x":350,"y":565},{"b":21,"x":400,"y":600},{"b":21,"x":1080,"y":650},{"b":21,"x":1125,"y":620},{"b":21,"x":1148,"y":635}],
"k4":[{"x":169,"y":745},{"x":220,"y":655},{"x":290,"y":590},{"x":380,"y":558},{"x":500,"y":535},{"x":650,"y":525},{"x":800,"y":535},{"x":950,"y":565},{"x":1050,"y":600},{"x":1151,"y":648}],
"r4":[{"x":169,"y":745},{"x":250,"y":610},{"x":350,"y":490},{"x":450,"y":400},{"x":550,"y":320},{"x":650,"y":240},{"x":720,"y":180},{"x":775,"y":133},{"x":840,"y":210},{"x":900,"y":300},{"x":960,"y":390},{"x":1030,"y":480},{"x":1090,"y":570},{"x":1151,"y":650}],
"m4":[{"m":1,"x":362,"y":565},{"m":1,"x":630,"y":521},{"m":1,"x":888,"y":538},{"m":1,"x":1134,"y":627},
{"m":2,"x":350,"y":568},{"m":2,"x":620,"y":518},{"m":2,"x":876,"y":527},{"m":2,"x":1120,"y":610},
{"m":3,"x":337,"y":571},{"m":3,"x":610,"y":515},{"m":3,"x":864,"y":515},{"m":3,"x":1107,"y":592},
{"m":4,"x":325,"y":575},{"m":4,"x":600,"y":512},{"m":4,"x":852,"y":504},{"m":4,"x":1095,"y":575},
{"m":5,"x":312,"y":580},{"m":5,"x":590,"y":508},{"m":5,"x":840,"y":492},{"m":5,"x":1077,"y":550},
{"m":6,"x":300,"y":585},{"m":6,"x":580,"y":505},{"m":6,"x":828,"y":480},{"m":6,"x":1060,"y":525},
{"m":7,"x":290,"y":591},{"m":7,"x":570,"y":501},{"m":7,"x":815,"y":468},{"m":7,"x":1045,"y":502},
{"m":8,"x":280,"y":597},{"m":8,"x":560,"y":498},{"m":8,"x":803,"y":457},{"m":8,"x":1030,"y":480},
{"m":9,"x":270,"y":604},{"m":9,"x":550,"y":495},{"m":9,"x":791,"y":445},{"m":9,"x":1015,"y":462},
{"m":10,"x":260,"y":612},{"m":10,"x":540,"y":492},{"m":10,"x":779,"y":434},{"m":10,"x":1000,"y":445},
{"m":11,"x":252,"y":620},{"m":11,"x":530,"y":488},{"m":11,"x":767,"y":422},{"m":11,"x":982,"y":420},
{"m":12,"x":245,"y":628},{"m":12,"x":520,"y":485},{"m":12,"x":755,"y":411},{"m":12,"x":965,"y":395},
{"m":13,"x":237,"y":636},{"m":13,"x":510,"y":481},{"m":13,"x":743,"y":399},{"m":13,"x":950,"y":372},
{"m":14,"x":230,"y":645},{"m":14,"x":500,"y":478},{"m":14,"x":731,"y":388},{"m":14,"x":935,"y":350},
{"m":15,"x":222,"y":655},{"m":15,"x":490,"y":475},{"m":15,"x":719,"y":376},{"m":15,"x":917,"y":325},
{"m":16,"x":215,"y":665},{"m":16,"x":480,"y":472},{"m":16,"x":707,"y":365},{"m":16,"x":900,"y":300},
{"m":17,"x":209,"y":675},{"m":17,"x":470,"y":468},{"m":17,"x":695,"y":353},{"m":17,"x":885,"y":277},
{"m":18,"x":203,"y":685},{"m":18,"x":460,"y":465},{"m":18,"x":683,"y":342},{"m":18,"x":870,"y":255},
{"m":19,"x":196,"y":695},{"m":19,"x":450,"y":461},{"m":19,"x":670,"y":330},{"m":19,"x":855,"y":232},
{"m":20,"x":190,"y":705},{"m":20,"x":440,"y":458},{"m":20,"x":658,"y":318},{"m":20,"x":840,"y":210},
{"m":21,"x":185,"y":715},{"m":21,"x":430,"y":455},{"m":21,"x":646,"y":306},{"m":21,"x":825,"y":190},
{"m":22,"x":180,"y":725},{"m":22,"x":420,"y":452},{"m":22,"x":634,"y":295},{"m":22,"x":810,"y":170},
{"m":23,"x":176,"y":733},{"m":23,"x":410,"y":448},{"m":23,"x":622,"y":283},{"m":23,"x":792,"y":151},
{"m":101,"x":408,"y":555},{"m":101,"x":315,"y":584},{"m":101,"x":248,"y":641},{"m":101,"x":200,"y":705},
{"m":102,"x":441,"y":548},{"m":102,"x":350,"y":572},{"m":102,"x":281,"y":617},{"m":102,"x":229,"y":668},
{"m":103,"x":474,"y":541},{"m":103,"x":385,"y":560},{"m":103,"x":314,"y":592},{"m":103,"x":257,"y":631},
{"m":104,"x":508,"y":535},{"m":104,"x":420,"y":548},{"m":104,"x":348,"y":568},{"m":104,"x":286,"y":594},
{"m":105,"x":541,"y":532},{"m":105,"x":455,"y":535},{"m":105,"x":381,"y":544},{"m":105,"x":314,"y":557},
{"m":106,"x":574,"y":530},{"m":106,"x":490,"y":523},{"m":106,"x":414,"y":520},{"m":106,"x":343,"y":520},
{"m":107,"x":607,"y":527},{"m":107,"x":525,"y":510},{"m":107,"x":447,"y":496},{"m":107,"x":371,"y":482},
{"m":108,"x":640,"y":525},{"m":108,"x":560,"y":498},{"m":108,"x":480,"y":472},{"m":108,"x":400,"y":445},
{"m":109,"x":672,"y":526},{"m":109,"x":590,"y":493},{"m":109,"x":508,"y":458},{"m":109,"x":426,"y":423},
{"m":110,"x":705,"y":527},{"m":110,"x":621,"y":488},{"m":110,"x":537,"y":445},{"m":110,"x":452,"y":402},
{"m":111,"x":737,"y":529},{"m":111,"x":651,"y":483},{"m":111,"x":565,"y":432},{"m":111,"x":478,"y":380},
{"m":112,"x":770,"y":532},{"m":112,"x":682,"y":478},{"m":112,"x":594,"y":419},{"m":112,"x":505,"y":358},
{"m":113,"x":802,"y":536},{"m":113,"x":712,"y":472},{"m":113,"x":622,"y":405},{"m":113,"x":531,"y":336},
{"m":114,"x":835,"y":540},{"m":114,"x":742,"y":467},{"m":114,"x":650,"y":392},{"m":114,"x":557,"y":315},
{"m":115,"x":867,"y":545},{"m":115,"x":772,"y":462},{"m":115,"x":678,"y":378},{"m":115,"x":583,"y":293},
{"m":116,"x":900,"y":550},{"m":116,"x":803,"y":457},{"m":116,"x":707,"y":365},{"m":116,"x":610,"y":272},
{"m":117,"x":931,"y":560},{"m":117,"x":831,"y":460},{"m":117,"x":731,"y":357},{"m":117,"x":630,"y":254},
{"m":118,"x":962,"y":570},{"m":118,"x":860,"y":463},{"m":118,"x":755,"y":349},{"m":118,"x":651,"y":237},
{"m":119,"x":993,"y":580},{"m":119,"x":888,"y":465},{"m":119,"x":779,"y":341},{"m":119,"x":671,"y":219},
{"m":120,"x":1024,"y":590},{"m":120,"x":916,"y":468},{"m":120,"x":804,"y":333},{"m":120,"x":692,"y":202},
{"m":121,"x":1055,"y":602},{"m":121,"x":944,"y":470},{"m":121,"x":828,"y":324},{"m":121,"x":713,"y":185},
{"m":122,"x":1086,"y":615},{"m":122,"x":973,"y":473},{"m":122,"x":852,"y":316},{"m":122,"x":734,"y":168},
{"m":123,"x":1117,"y":630},{"m":123,"x":1001,"y":476},{"m":123,"x":876,"y":308},{"m":123,"x":754,"y":150}],
"c4":[{"l":1,"c":9,"x":228,"y":738},{"l":1,"c":9,"x":200,"y":775},{"l":2,"c":8,"x":295,"y":725},{"l":2,"c":8,"x":280,"y":770},{"l":2,"c":8,"x":225,"y":815},{"l":3,"c":7,"x":362,"y":715},{"l":3,"c":7,"x":350,"y":770},{"l":3,"c":7,"x":320,"y":830},{"l":3,"c":7,"x":272,"y":880},{"l":4,"c":6,"x":445,"y":700},{"l":4,"c":6,"x":440,"y":760},{"l":4,"c":6,"x":390,"y":870},{"l":4,"c":6,"x":325,"y":940},
{"l":5,"c":4,"x":520,"y":688},{"l":5,"c":4,"x":560,"y":730},{"l":5,"c":4,"x":620,"y":810},{"l":5,"c":4,"x":670,"y":880},{"l":5,"c":4,"x":700,"y":888},{"l":5,"c":4,"x":800,"y":860},{"l":5,"c":4,"x":880,"y":820},{"l":5,"c":4,"x":960,"y":778},
{"l":6,"c":2,"x":610,"y":672},{"l":6,"c":2,"x":660,"y":705},{"l":6,"c":2,"x":760,"y":732},{"l":6,"c":2,"x":890,"y":728},{"l":7,"c":2,"x":705,"y":655},{"l":7,"c":2,"x":750,"y":665},{"l":7,"c":2,"x":805,"y":675},
{"l":8,"c":4,"x":395,"y":1030},{"l":8,"c":4,"x":520,"y":965},{"l":8,"c":4,"x":650,"y":917},{"l":8,"c":4,"x":690,"y":935},{"l":8,"c":4,"x":718,"y":975},{"l":9,"c":6,"x":975,"y":915},{"l":9,"c":6,"x":990,"y":875},{"l":9,"c":6,"x":1035,"y":835}],
"s4":[{"x":122,"y":175,"x2":775,"y2":133},{"x":775,"y":133,"x2":1192,"y2":232},{"x":122,"y":175,"x2":175,"y2":740},{"x":1192,"y":232,"x2":1125,"y2":882},{"x":175,"y":740,"x2":405,"y2":1048},{"x":405,"y":1048,"x2":1125,"y2":882},{"x":175,"y":740,"x2":762,"y2":645},{"x":762,"y":645,"x2":1125,"y2":882},{"x":762,"y":535,"x2":762,"y2":645},
{"x":127,"y":215,"x2":102,"y2":215},{"x":143,"y":377,"x2":118,"y2":377},{"x":158,"y":530,"x2":133,"y2":530},{"x":172,"y":672,"x2":148,"y2":672},
{"x":405,"y":1048,"x2":375,"y2":1075},{"x":345,"y":968,"x2":320,"y2":990},{"x":295,"y":900,"x2":268,"y2":920},{"x":250,"y":840,"x2":225,"y2":860},{"x":175,"y":740,"x2":150,"y2":760},
{"x":405,"y":1048,"x2":413,"y2":1080},{"x":603,"y":1003,"x2":612,"y2":1033},{"x":790,"y":960,"x2":800,"y2":985},{"x":965,"y":920,"x2":975,"y2":948},{"x":1125,"y":882,"x2":1140,"y2":908}],
"d4":[{"x":122,"y":175,"x2":368,"y2":307},{"x":368,"y":307,"x2":555,"y2":292},{"x":890,"y":260,"x2":1192,"y2":232},{"x":368,"y":307,"x2":398,"y2":1048}],
"t4":[{"x":68,"y":215,"t":"1.6"},{"x":85,"y":377,"t":"1.4"},{"x":100,"y":530,"t":"1.2"},{"x":112,"y":672,"t":"1.0"},{"x":350,"y":1103,"t":"0"},{"x":285,"y":1003,"t":"50"},{"x":235,"y":920,"t":"100"},{"x":188,"y":845,"t":"150"},{"x":135,"y":780,"t":"200"},{"x":418,"y":1115,"t":"0"},{"x":622,"y":1067,"t":"1000"},{"x":808,"y":1020,"t":"2000"},{"x":985,"y":980,"t":"3000"},{"x":1148,"y":940,"t":"4000"}]
},
"bounds":"flush","spacing":{"row":20,"column":220},"columns":3,
"concat":[
{"width":420,"height":400,"encoding":{"x":{"field":"x","type":"quantitative","axis":null,"scale":{"domain":[0,1260],"nice":false,"zero":false}},"y":{"field":"y","type":"quantitative","axis":null,"scale":{"domain":[1200,0],"nice":false,"zero":false}}},"layer":[
{"data":{"values":[{"x":-270,"x2":5013,"y":-60,"y2":24},{"x":-270,"x2":-213,"y":-60,"y2":2421}]},"mark":{"type":"rect","color":"#d7e5fe"},"encoding":{"x2":{"field":"x2"},"y2":{"field":"y2"}}},
{"data":{"name":"a1"},"mark":{"type":"area","interpolate":"monotone"},"encoding":{"y2":{"datum":1200},"fill":{"field":"b","type":"nominal","legend":null,"scale":{"domain":[0,1,2,3,4,5,6,7,8,9,10,11,12,13,14,15,16,17,18,19,20,21,22,23,24,25],"range":["#8a2000","#a83800","#aa6000","#aa9000","#90aa00","#50a800","#10a010","#08a040","#08a880","#08a8a8","#0880b8","#0848c0","#1000c0","#4800b8","#8000c0","#c000c0","#c80090","#c00040","#101080","#0b4f7a","#0a6650","#105020","#600030","#700070","#400090","#100080"]}}}},
{"data":{"name":"k1"},"mark":{"type":"area","interpolate":"monotone","color":"#ffffff"},"encoding":{"y2":{"datum":1200}}},
{"data":{"name":"r1"},"mark":{"type":"area","interpolate":"monotone","color":"#ffffff"},"encoding":{"y2":{"datum":30}}},
{"data":{"name":"m1"},"mark":{"type":"line","interpolate":"catmull-rom","color":"#111111","strokeWidth":0.8},"encoding":{"detail":{"field":"m","type":"nominal"},"order":{"value":null}}},
{"data":{"name":"k1"},"mark":{"type":"line","interpolate":"monotone","color":"#111111","strokeWidth":1}},
{"data":{"name":"r1"},"mark":{"type":"line","interpolate":"monotone","color":"#111111","strokeWidth":1}},
{"data":{"name":"c1"},"mark":{"type":"line","interpolate":"catmull-rom","strokeWidth":1},"encoding":{"detail":{"field":"l","type":"nominal"},"order":{"value":null},"stroke":{"field":"c","type":"nominal","legend":null,"scale":{"domain":[1,2,3,4,5,6,7,8,9],"range":["#e04070","#d040d0","#8030d0","#3040c0","#2090d0","#20d0d0","#30d090","#80d040","#e0d040"]}}}},
{"data":{"name":"s1"},"mark":{"type":"rule","color":"#222222","strokeWidth":1.1},"encoding":{"x2":{"field":"x2"},"y2":{"field":"y2"}}},
{"data":{"name":"d1"},"mark":{"type":"rule","color":"#222222","strokeWidth":1,"strokeDash":[3,3]},"encoding":{"x2":{"field":"x2"},"y2":{"field":"y2"}}},
{"data":{"name":"t1"},"mark":{"type":"text","fontSize":13,"color":"#333333","align":"center","baseline":"middle"},"encoding":{"text":{"field":"t","type":"nominal"}}},
{"data":{"values":[{"x":657,"y":55,"t":"Graphique grilladé"}]},"mark":{"type":"text","fontSize":15,"fontWeight":"bold","color":"#111111","align":"center","baseline":"middle"},"encoding":{"text":{"field":"t","type":"nominal"}}},
{"data":{"values":[{"x":178,"y":945,"t":"azote"}]},"mark":{"type":"text","fontSize":28,"angle":47,"color":"#222222","align":"center","baseline":"middle"},"encoding":{"text":{"field":"t","type":"nominal"}}},
{"data":{"values":[{"x":838,"y":1080,"t":"phosphore"}]},"mark":{"type":"text","fontSize":28,"angle":346,"color":"#222222","align":"center","baseline":"middle"},"encoding":{"text":{"field":"t","type":"nominal"}}}
]},
{"width":410,"height":400,"encoding":{"x":{"field":"x","type":"quantitative","axis":null,"scale":{"domain":[0,1230],"nice":false,"zero":false}},"y":{"field":"y","type":"quantitative","axis":null,"scale":{"domain":[1200,0],"nice":false,"zero":false}}},"layer":[
{"data":{"name":"a2"},"mark":{"type":"area","interpolate":"monotone"},"encoding":{"y2":{"datum":1200},"fill":{"field":"b","type":"nominal","legend":null,"scale":{"domain":[0,1,2,3,4,5,6,7,8,9,10,11,12,13,14,15,16,17,18,19,20,21,22,23,24,25],"range":["#8a2000","#c03800","#cc7000","#c8b000","#a0c000","#50b800","#10b010","#08a040","#08a880","#08a8a8","#0880b8","#0848a0","#1000a0","#4800a8","#8000b0","#a800a8","#b80090","#c00040","#101080","#0b4f7a","#0a6650","#105020","#600030","#700070","#400090","#100080"]}}}},
{"data":{"name":"k2"},"mark":{"type":"area","interpolate":"monotone","color":"#ffffff"},"encoding":{"y2":{"datum":1200}}},
{"data":{"name":"r2"},"mark":{"type":"area","interpolate":"monotone","color":"#ffffff"},"encoding":{"y2":{"datum":30}}},
{"data":{"name":"m2"},"mark":{"type":"line","interpolate":"catmull-rom","color":"#111111","strokeWidth":0.8},"encoding":{"detail":{"field":"m","type":"nominal"},"order":{"value":null}}},
{"data":{"name":"k2"},"mark":{"type":"line","interpolate":"monotone","color":"#111111","strokeWidth":1}},
{"data":{"name":"r2"},"mark":{"type":"line","interpolate":"monotone","color":"#111111","strokeWidth":1}},
{"data":{"name":"c2"},"mark":{"type":"line","interpolate":"catmull-rom","strokeWidth":1},"encoding":{"detail":{"field":"l","type":"nominal"},"order":{"value":null},"stroke":{"field":"c","type":"nominal","legend":null,"scale":{"domain":[1,2,3,4,5,6,7,8,9],"range":["#e04070","#d040d0","#8030d0","#3040c0","#2090d0","#20d0d0","#30d090","#80d040","#e0d040"]}}}},
{"data":{"name":"s2"},"mark":{"type":"rule","color":"#222222","strokeWidth":1.1},"encoding":{"x2":{"field":"x2"},"y2":{"field":"y2"}}},
{"data":{"name":"d2"},"mark":{"type":"rule","color":"#222222","strokeWidth":1,"strokeDash":[3,3]},"encoding":{"x2":{"field":"x2"},"y2":{"field":"y2"}}},
{"data":{"name":"t2"},"mark":{"type":"text","fontSize":13,"color":"#333333","align":"center","baseline":"middle"},"encoding":{"text":{"field":"t","type":"nominal"}}},
{"data":{"values":[{"x":648,"y":55,"t":"Graphique grilladé"}]},"mark":{"type":"text","fontSize":15,"fontWeight":"bold","color":"#111111","align":"center","baseline":"middle"},"encoding":{"text":{"field":"t","type":"nominal"}}},
{"data":{"values":[{"x":172,"y":945,"t":"azote"}]},"mark":{"type":"text","fontSize":28,"angle":47,"color":"#222222","align":"center","baseline":"middle"},"encoding":{"text":{"field":"t","type":"nominal"}}},
{"data":{"values":[{"x":825,"y":1070,"t":"fientes"}]},"mark":{"type":"text","fontSize":28,"angle":347,"color":"#222222","align":"center","baseline":"middle"},"encoding":{"text":{"field":"t","type":"nominal"}}}
]},
{"width":401,"height":400,"encoding":{"x":{"field":"x","type":"quantitative","axis":null,"scale":{"domain":[0,1203],"nice":false,"zero":false}},"y":{"field":"y","type":"quantitative","axis":null,"scale":{"domain":[1200,0],"nice":false,"zero":false}}},"layer":[
{"data":{"name":"a3"},"mark":{"type":"area","interpolate":"monotone"},"encoding":{"y2":{"datum":1200},"fill":{"field":"b","type":"nominal","legend":null,"scale":{"domain":[0,1,2,3,4,5,6,7,8,9,10,11,12,13,14,15,16,17,18,19,20,21,22,23,24,25],"range":["#8a2000","#c83000","#d07000","#d0b000","#a8c800","#50c000","#10c010","#08b050","#08b890","#08a8b0","#0880b0","#0838b0","#1000c0","#4800a0","#6a0090","#c000c0","#c80090","#c00040","#101080","#0b4f7a","#0a6650","#105020","#600030","#700070","#300090","#100080"]}}}},
{"data":{"name":"k3"},"mark":{"type":"area","interpolate":"monotone","color":"#ffffff"},"encoding":{"y2":{"datum":1200}}},
{"data":{"name":"r3"},"mark":{"type":"area","interpolate":"monotone","color":"#ffffff"},"encoding":{"y2":{"datum":30}}},
{"data":{"name":"m3"},"mark":{"type":"line","interpolate":"catmull-rom","color":"#111111","strokeWidth":0.8},"encoding":{"detail":{"field":"m","type":"nominal"},"order":{"value":null}}},
{"data":{"name":"k3"},"mark":{"type":"line","interpolate":"monotone","color":"#111111","strokeWidth":1}},
{"data":{"name":"r3"},"mark":{"type":"line","interpolate":"monotone","color":"#111111","strokeWidth":1}},
{"data":{"name":"c3"},"mark":{"type":"line","interpolate":"catmull-rom","strokeWidth":1},"encoding":{"detail":{"field":"l","type":"nominal"},"order":{"value":null},"stroke":{"field":"c","type":"nominal","legend":null,"scale":{"domain":[1,2,3,4,5,6,7,8,9],"range":["#e04070","#d040d0","#8030d0","#3040c0","#2090d0","#20d0d0","#30d090","#80d040","#e0d040"]}}}},
{"data":{"name":"s3"},"mark":{"type":"rule","color":"#222222","strokeWidth":1.1},"encoding":{"x2":{"field":"x2"},"y2":{"field":"y2"}}},
{"data":{"name":"d3"},"mark":{"type":"rule","color":"#222222","strokeWidth":1,"strokeDash":[3,3]},"encoding":{"x2":{"field":"x2"},"y2":{"field":"y2"}}},
{"data":{"name":"t3"},"mark":{"type":"text","fontSize":13,"color":"#333333","align":"center","baseline":"middle"},"encoding":{"text":{"field":"t","type":"nominal"}}},
{"data":{"values":[{"x":670,"y":55,"t":"Graphique grilladé"}]},"mark":{"type":"text","fontSize":15,"fontWeight":"bold","color":"#111111","align":"center","baseline":"middle"},"encoding":{"text":{"field":"t","type":"nominal"}}},
{"data":{"values":[{"x":190,"y":945,"t":"phosphore"}]},"mark":{"type":"text","fontSize":28,"angle":48,"color":"#222222","align":"center","baseline":"middle"},"encoding":{"text":{"field":"t","type":"nominal"}}},
{"data":{"values":[{"x":845,"y":1070,"t":"fientes"}]},"mark":{"type":"text","fontSize":28,"angle":347,"color":"#222222","align":"center","baseline":"middle"},"encoding":{"text":{"field":"t","type":"nominal"}}}
]},
{"width":420,"height":387,"encoding":{"x":{"field":"x","type":"quantitative","axis":null,"scale":{"domain":[0,1260],"nice":false,"zero":false}},"y":{"field":"y","type":"quantitative","axis":null,"scale":{"domain":[1161,0],"nice":false,"zero":false}}},"layer":[
{"data":{"name":"a4"},"mark":{"type":"area","interpolate":"monotone"},"encoding":{"y2":{"datum":1161},"fill":{"field":"b","type":"nominal","legend":null,"scale":{"domain":[0,1,2,3,4,5,6,7,8,9,10,11,12,13,14,15,16,17,18,19,20,21,22,23,24,25],"range":["#8a2000","#a83800","#aa6000","#aa9000","#90aa00","#50a800","#10a010","#08a040","#08a880","#08a8a8","#0880b8","#0848c0","#1010a8","#4800a8","#8000b0","#b000b0","#c80090","#c00040","#101080","#0b4f7a","#0a6650","#105020","#600030","#700070","#300090","#100080"]}}}},
{"data":{"name":"k4"},"mark":{"type":"area","interpolate":"monotone","color":"#ffffff"},"encoding":{"y2":{"datum":1161}}},
{"data":{"name":"r4"},"mark":{"type":"area","interpolate":"monotone","color":"#ffffff"},"encoding":{"y2":{"datum":30}}},
{"data":{"name":"m4"},"mark":{"type":"line","interpolate":"catmull-rom","color":"#111111","strokeWidth":0.7},"encoding":{"detail":{"field":"m","type":"nominal"},"order":{"value":null}}},
{"data":{"name":"k4"},"mark":{"type":"line","interpolate":"monotone","color":"#111111","strokeWidth":1.4}},
{"data":{"name":"r4"},"mark":{"type":"line","interpolate":"monotone","color":"#111111","strokeWidth":1}},
{"data":{"name":"c4"},"mark":{"type":"line","interpolate":"catmull-rom","strokeWidth":1},"encoding":{"detail":{"field":"l","type":"nominal"},"order":{"value":null},"stroke":{"field":"c","type":"nominal","legend":null,"scale":{"domain":[1,2,3,4,5,6,7,8,9],"range":["#e04070","#d040d0","#8030d0","#3040c0","#2090d0","#20d0d0","#30d090","#80d040","#e0d040"]}}}},
{"data":{"name":"s4"},"mark":{"type":"rule","color":"#222222","strokeWidth":1.1},"encoding":{"x2":{"field":"x2"},"y2":{"field":"y2"}}},
{"data":{"name":"d4"},"mark":{"type":"rule","color":"#222222","strokeWidth":1,"strokeDash":[3,3]},"encoding":{"x2":{"field":"x2"},"y2":{"field":"y2"}}},
{"data":{"name":"t4"},"mark":{"type":"text","fontSize":13,"color":"#333333","align":"center","baseline":"middle"},"encoding":{"text":{"field":"t","type":"nominal"}}},
{"data":{"values":[{"x":657,"y":55,"t":"Graphique grilladé"}]},"mark":{"type":"text","fontSize":15,"fontWeight":"bold","color":"#111111","align":"center","baseline":"middle"},"encoding":{"text":{"field":"t","type":"nominal"}}},
{"data":{"values":[{"x":172,"y":955,"t":"potassium"}]},"mark":{"type":"text","fontSize":28,"angle":48,"color":"#222222","align":"center","baseline":"middle"},"encoding":{"text":{"field":"t","type":"nominal"}}},
{"data":{"values":[{"x":832,"y":1075,"t":"fientes"}]},"mark":{"type":"text","fontSize":28,"angle":347,"color":"#222222","align":"center","baseline":"middle"},"encoding":{"text":{"field":"t","type":"nominal"}}}
]}
]}
